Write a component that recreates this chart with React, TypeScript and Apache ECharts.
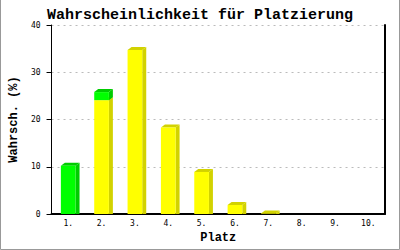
import React, { useEffect, useRef } from "react";
import * as echarts from "echarts";

const categories = ["1.", "2.", "3.", "4.", "5.", "6.", "7.", "8.", "9.", "10."];
const yellowValues = [0, 24.1, 34.7, 18.3, 8.9, 1.9, 0.1, 0, 0, 0];
const greenValues = [10.2, 1.7, 0, 0, 0, 0, 0, 0, 0, 0];
const yTicks = { min: 0, max: 40, interval: 10 };

const FONT = "'Liberation Mono', 'DejaVu Sans Mono', monospace";
const TICK_FONT = "'DejaVu Sans Mono', 'Liberation Mono', monospace";

export default function App() {
  const ref = useRef<HTMLDivElement>(null);
  useEffect(() => {
    if (!ref.current) return;
    const chart = echarts.init(ref.current, null, { renderer: "svg" });
    const data = categories.map((_, i) => [i, yellowValues[i], greenValues[i]]);
    chart.setOption({
      animation: false,
      backgroundColor: "#fff",
      title: {
        text: "Wahrscheinlichkeit für Platzierung",
        left: "center",
        top: 3,
        textStyle: { fontFamily: FONT, fontWeight: "bold", fontSize: 15, color: "#000" },
      },
      graphic: [
        {
          type: "polyline",
          shape: { points: [[0.5, 0], [0.5, 249.5], [399.5, 249.5], [399.5, 0]] },
          style: { stroke: "#999", lineWidth: 1, fill: null },
          silent: true,
        },
      ],
      grid: { left: 43, right: 15, top: 25, bottom: 36 },
      xAxis: {
        type: "category",
        data: categories,
        name: "Platz",
        nameLocation: "middle",
        nameGap: 18,
        nameTextStyle: { fontFamily: FONT, fontWeight: "bold", fontSize: 12, color: "#000" },
        axisLine: { lineStyle: { color: "#000", width: 2 } },
        axisTick: { show: false },
        axisLabel: { fontFamily: TICK_FONT, fontSize: 8, color: "#000", margin: 5 },
        splitLine: { show: false },
      },
      yAxis: [
        {
          type: "value",
          min: yTicks.min,
          max: yTicks.max,
          interval: yTicks.interval,
          name: "Wahrsch. (%)",
          nameLocation: "middle",
          nameGap: 25,
          nameTextStyle: { fontFamily: FONT, fontWeight: "bold", fontSize: 12, color: "#000" },
          axisLine: { show: true, lineStyle: { color: "#000", width: 1 } },
          axisTick: { show: true, length: 5, lineStyle: { color: "#000" } },
          axisLabel: { fontFamily: TICK_FONT, fontSize: 8, color: "#000", margin: 11 },
          splitLine: { show: true, lineStyle: { color: "#bbb", type: [2, 4] } },
        },
        {
          type: "value",
          min: yTicks.min,
          max: yTicks.max,
          interval: yTicks.interval,
          position: "right",
          axisLine: { show: true, lineStyle: { color: "#000", width: 2 } },
          axisTick: { show: false },
          axisLabel: { show: false },
          splitLine: { show: false },
        },
      ],
      series: [
        {
          type: "custom",
          data,
          renderItem: (params: any, api: any) => {
            const i = api.value(0);
            const yv = api.value(1);
            const gv = api.value(2);
            const w = api.size([1, 0])[0] * 0.44;
            const dx = 4;
            const dy = 3;
            const children: any[] = [];
            const seg = (v0: number, v1: number, front: string, dark: string) => {
              if (v1 <= v0) return;
              const p0 = api.coord([i, v0]);
              const p1 = api.coord([i, v1]);
              const x = p0[0] - w / 2;
              const y0 = p0[1];
              const y1 = p1[1];
              const base = v0 === 0 ? y0 : y0 - dy;
              children.push({
                type: "polygon",
                shape: { points: [[x + w, y0], [x + w + dx, base], [x + w + dx, y1 - dy], [x + w, y1]] },
                style: { fill: dark },
              });
              children.push({
                type: "polygon",
                shape: { points: [[x, y1], [x + dx, y1 - dy], [x + w + dx, y1 - dy], [x + w, y1]] },
                style: { fill: dark },
              });
              children.push({
                type: "rect",
                shape: { x, y: y1, width: w, height: y0 - y1 },
                style: { fill: front },
              });
            };
            seg(0, yv, "#ffff00", "#d2d200");
            seg(yv, yv + gv, "#00ff00", "#00cc00");
            return { type: "group", children };
          },
        },
      ],
    });
    return () => chart.dispose();
  }, []);
  return <div ref={ref} style={{ position: "fixed", left: 0, top: 0, width: 400, height: 250 }} />;
}
